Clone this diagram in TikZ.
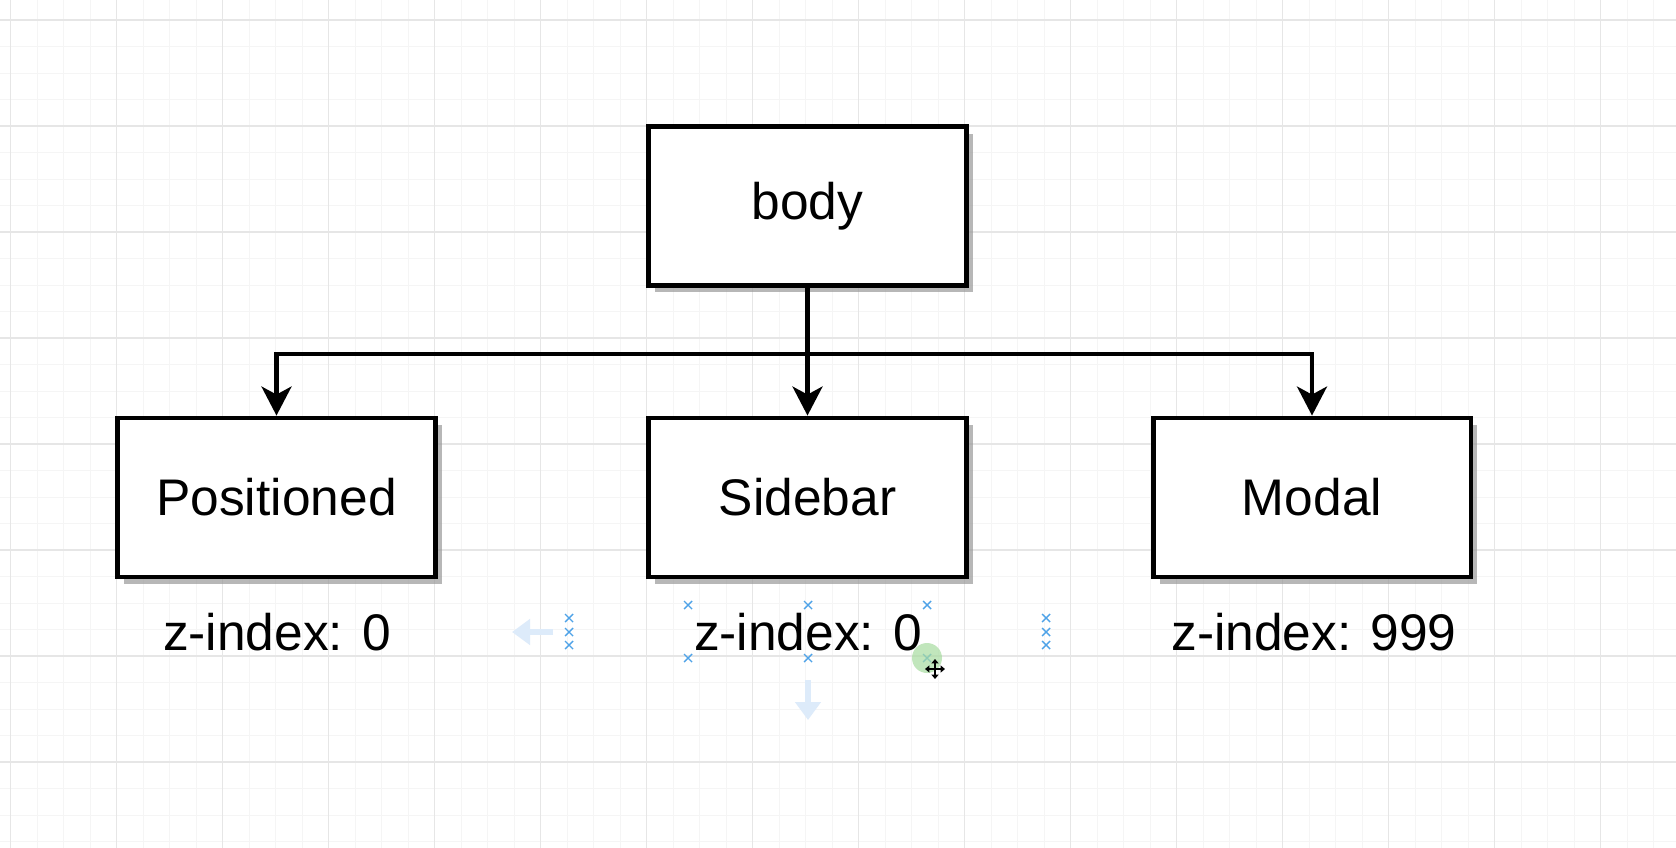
\documentclass[tikz,border=0pt]{standalone}
\usepackage{fontspec}
\setmainfont{Liberation Sans}
\usetikzlibrary{arrows.meta,shadows}

\definecolor{gridminor}{HTML}{F5F5F5}
\definecolor{gridmajor}{HTML}{E6E6E6}
\definecolor{selblue}{HTML}{4FA3E8}
\definecolor{ghostblue}{HTML}{DDEBFA}
\definecolor{hovergreen}{HTML}{A8DCA0}

\tikzset{
  box/.style={draw, line width=2.8pt, fill=white,
    minimum width=6.36cm, minimum height=3.18cm,
    font=\fontsize{29.3}{35}\selectfont,
    drop shadow={shadow xshift=0.13cm, shadow yshift=-0.14cm, fill=black!40, opacity=0.7}},
  zlabel/.style={font=\fontsize{29.3}{35}\selectfont, inner sep=0pt, anchor=base},
  conn/.style={line width=2.3pt, -{Stealth[length=0.58cm, width=0.6cm, inset=0.16cm]}},
  minorline/.style={gridminor, line width=0.5pt},
  majorline/.style={gridmajor, line width=0.7pt},
  selmark/.style={selblue, line width=0.8pt},
  ghostarrow/.style={ghostblue, line width=3.4pt, -{Triangle[length=0.36cm, width=0.5cm]}}
}

\begin{document}
\begin{tikzpicture}[x=0.02cm, y=-0.02cm]
\useasboundingbox (0,0) rectangle (1676,848);
\fill[white] (0,0) rectangle (1676,848);

% grid
\foreach \i in {0,...,63}
  \draw[minorline] ({10.7+26.5*\i},0) -- ({10.7+26.5*\i},848);
\foreach \j in {-1,...,31}
  \draw[minorline] (0,{20+26.5*\j}) -- (1676,{20+26.5*\j});
\foreach \i in {0,...,15}
  \draw[majorline] ({10.7+106*\i},0) -- ({10.7+106*\i},848);
\foreach \j in {0,...,7}
  \draw[majorline] (0,{20+106*\j}) -- (1676,{20+106*\j});

% boxes
\node[box] (body) at (807.5,206) {body};
\node[box] (positioned) at (276.5,497.5) {Positioned};
\node[box] (sidebar) at (807.5,497.5) {Sidebar};
\node[box] (modal) at (1312,497.5) {Modal};

% connectors
\draw[conn] (body.south) -- (sidebar.north);
\draw[conn] (body.south) -- ++(0,66.5) -| (positioned.north);
\draw[conn] (body.south) -- ++(0,66.5) -| (modal.north);

% z-index labels
\node[zlabel] (zpositioned) at (277,650) {z-index: 0};
\node[zlabel] (zsidebar) at (808,650) {z-index: 0};
\node[zlabel] (zmodal) at (1314,650) {z-index: 999};

% selection handles
\foreach \p in {(688,605),(808,605),(927,605),(688,658),(808,658),(927,658),
                (569,618),(569,632),(569,645),(1046,618),(1046,632),(1046,645)}
  \draw[selmark] \p ++(-4,-4) -- ++(8,8) ++(-8,0) -- ++(8,-8);
\draw[ghostarrow] (553,632) -- (512,632);
\draw[ghostarrow] (808,680) -- (808,720);
\fill[hovergreen, opacity=0.7] (927,658) circle [radius=0.3cm];
\draw[line width=1.2pt, {Triangle[length=2.5pt,width=4pt]}-{Triangle[length=2.5pt,width=4pt]}] (925,669) -- (945,669);
\draw[line width=1.2pt, {Triangle[length=2.5pt,width=4pt]}-{Triangle[length=2.5pt,width=4pt]}] (935,659) -- (935,679);
\end{tikzpicture}
\end{document}
